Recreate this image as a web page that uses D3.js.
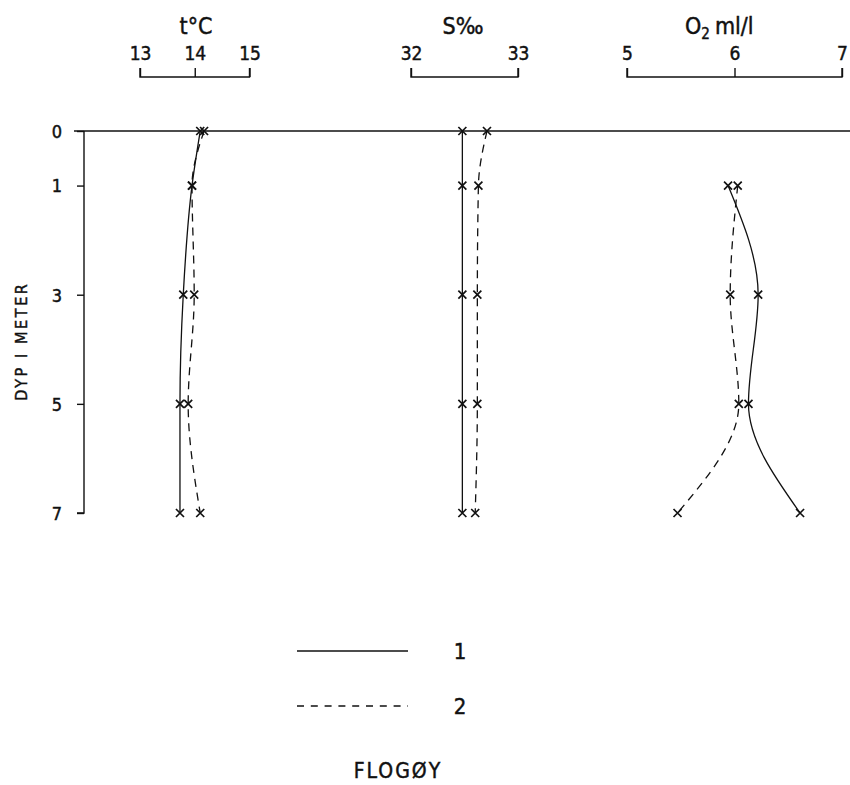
<!DOCTYPE html>
<html>
<head>
<meta charset="utf-8">
<script src="https://cdn.jsdelivr.net/npm/d3@7"></script>
<style>
  html, body { margin: 0; padding: 0; background: #fff; }
  svg { display: block; }
  svg text { font-family: "DejaVu Sans Condensed", "Liberation Sans Narrow", "DejaVu Sans", sans-serif;
             fill: #111; stroke: #111; stroke-width: 0.45px; }
</style>
</head>
<body>
<svg id="chart" width="850" height="785"></svg>
<script>
// depth profiles, station FLOGØY
const depths = [0, 1, 3, 5, 7];
const temp1 = [14.10, 13.95, 13.79, 13.73, 13.73];
const temp2 = [14.17, 13.95, 13.99, 13.88, 14.10];
const sal1 = [32.48, 32.48, 32.48, 32.48, 32.48];
const sal2 = [32.71, 32.63, 32.62, 32.62, 32.60];
const oxyDepths = [1, 3, 5, 7];
const oxy1 = [5.94, 6.22, 6.13, 6.61];
const oxy2 = [6.03, 5.96, 6.04, 5.47];

const depthTicks = [0, 1, 3, 5, 7];
const seriesNames = ["1", "2"];

const svg = d3.select("#chart");
const ink = "#111";

const y = d3.scaleLinear().domain([0, 7]).range([131, 513]);

// one bracket axis per variable
const panels = [
  { title: "t°C", tx: 196, domain: [13, 15], range: [140, 249.5], ticks: [13, 14, 15],
    d: depths, s1: temp1, s2: temp2 },
  { title: "S‰", tx: 463, domain: [32, 33], range: [411, 518], ticks: [32, 33],
    d: depths, s1: sal1, s2: sal2 },
  { title: "O2", tx: 685, domain: [5, 7], range: [627, 842], ticks: [5, 6, 7],
    d: oxyDepths, s1: oxy1, s2: oxy2 },
];

// depth axis
svg.append("line")
  .attr("x1", 74).attr("x2", 850).attr("y1", y(0)).attr("y2", y(0))
  .attr("stroke", ink).attr("stroke-width", 1.4);

const yAxis = svg.append("g").attr("transform", "translate(84,0)")
  .call(d3.axisLeft(y).tickValues(depthTicks).tickSize(7).tickFormat(d3.format("d")));
yAxis.select(".domain").attr("stroke", ink).attr("stroke-width", 1.4).attr("d", `M-7,${y(7)}H0V${y(0)}`);
yAxis.selectAll(".tick line").attr("stroke", ink).attr("stroke-width", 1.4);
yAxis.selectAll(".tick text").style("font-size", "18px")
  .attr("text-anchor", "middle").attr("x", -27).attr("dy", "0.35em");

svg.append("text")
  .attr("transform", `translate(21,${y(3.85)}) rotate(-90)`)
  .attr("text-anchor", "middle").attr("dy", "0.35em")
  .style("font-size", "16px").attr("letter-spacing", 2.6)
  .text("DYP I METER");

const line = d3.line().curve(d3.curveMonotoneY);

function cross(g, px, py) {
  const r = 4;
  g.append("path")
    .attr("d", `M${px - r},${py - r}L${px + r},${py + r}M${px - r},${py + r}L${px + r},${py - r}`)
    .attr("stroke", ink).attr("stroke-width", 1.7).attr("fill", "none");
}

panels.forEach(p => {
  const x = d3.scaleLinear().domain(p.domain).range(p.range);
  const g = svg.append("g");

  const ax = g.append("g").attr("transform", "translate(0,77)")
    .call(d3.axisTop(x).tickValues(p.ticks).tickSize(9).tickPadding(8).tickFormat(d3.format("d")));
  ax.select(".domain").attr("stroke", ink).attr("stroke-width", 1.4)
    .attr("d", `M${p.range[0]},-9V0H${p.range[1]}V-9`);
  ax.selectAll(".tick line").attr("stroke", ink).attr("stroke-width", 1.4);
  ax.selectAll(".tick text").style("font-size", "19px");

  if (p.title === "O2") {
    const t = g.append("text").attr("x", p.tx).attr("y", 34).style("font-size", "23px");
    t.append("tspan").text("O");
    t.append("tspan").style("font-size", "15px").attr("dy", 5).text("2");
    t.append("tspan").attr("dy", -5).attr("dx", 5).text("ml/l");
  } else {
    g.append("text").attr("x", p.tx).attr("y", 34)
      .attr("text-anchor", "middle").style("font-size", "23px").text(p.title);
  }

  [p.s1, p.s2].forEach((s, i) => {
    const pts = p.d.map((d, k) => [x(s[k]), y(d)]);
    g.append("path").attr("d", line(pts))
      .attr("fill", "none").attr("stroke", ink).attr("stroke-width", 1.3)
      .attr("stroke-dasharray", i === 1 ? "8,6" : null);
    pts.forEach(q => cross(g, q[0], q[1]));
  });
});

// legend
const leg = svg.append("g");
seriesNames.forEach((n, i) => {
  const ly = 651 + i * 55;
  leg.append("line").attr("x1", 297).attr("x2", 408).attr("y1", ly).attr("y2", ly)
    .attr("stroke", ink).attr("stroke-width", 1.4)
    .attr("stroke-dasharray", i === 1 ? "7,6.8" : null);
  leg.append("text").attr("x", 460).attr("y", ly).attr("dy", "0.35em").attr("text-anchor", "middle")
    .style("font-size", "22px").text(n);
});

svg.append("text").attr("x", 398).attr("y", 778).attr("text-anchor", "middle")
  .style("font-size", "21px").attr("letter-spacing", 2).text("FLOGØY");
</script>
</body>
</html>
